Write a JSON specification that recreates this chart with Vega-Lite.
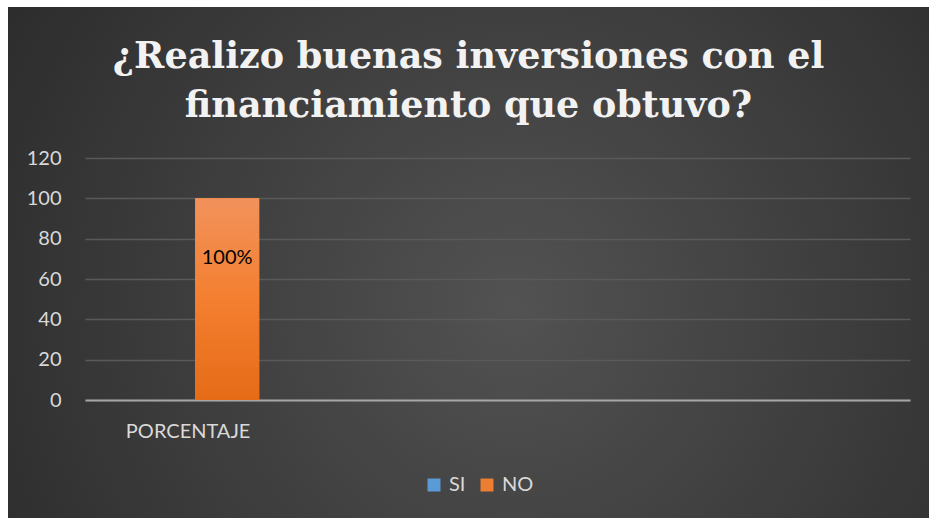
{
  "$schema": "https://vega.github.io/schema/vega-lite/v6.json",
  "width": 921,
  "height": 511,
  "autosize": {"type": "none"},
  "padding": {"left": 8, "top": 7, "right": 0, "bottom": 0},
  "background": "#ffffff",
  "title": {
    "text": ["¿Realizo buenas inversiones con el", "financiamiento que obtuvo?"],
    "font": "DejaVu Serif",
    "fontWeight": "bold",
    "fontSize": 36.5,
    "lineHeight": 49,
    "color": "#f2f2f2",
    "anchor": "middle",
    "frame": "group",
    "baseline": "alphabetic",
    "offset": -146
  },
  "data": {
    "values": [
      {"categoria": "PORCENTAJE", "respuesta": "SI", "valor": 0, "etiqueta": "0%"},
      {"categoria": "PORCENTAJE", "respuesta": "NO", "valor": 100, "etiqueta": "100%"}
    ]
  },
  "encoding": {
    "x": {
      "field": "categoria",
      "type": "nominal",
      "title": null,
      "scale": {"range": [77, 902], "paddingInner": 0.3333, "paddingOuter": 1, "align": 0},
      "axis": {
        "offset": -118,
        "labelAngle": 0,
        "ticks": false,
        "domainColor": "#a6a6a6",
        "domainWidth": 2,
        "labelColor": "#d9d9d9",
        "labelFontSize": 20,
        "labelFont": "Lato",
        "labelPadding": 21
      }
    },
    "xOffset": {
      "field": "respuesta",
      "type": "nominal",
      "scale": {"domain": ["SI", "NO"], "paddingInner": 0.18, "paddingOuter": 0.41}
    },
    "y": {
      "field": "valor",
      "type": "quantitative",
      "title": null,
      "scale": {"domain": [0, 120], "range": [393, 151], "nice": false},
      "axis": {
        "offset": -77,
        "values": [0, 20, 40, 60, 80, 100, 120],
        "domain": false,
        "ticks": false,
        "labelColor": "#d9d9d9",
        "labelFontSize": 20,
        "labelFont": "Lato",
        "labelPadding": 24,
        "gridColor": "#5a5a5a",
        "gridWidth": 1.3
      }
    }
  },
  "layer": [
    {
      "mark": {"type": "bar"},
      "encoding": {
        "color": {
          "field": "respuesta",
          "type": "nominal",
          "scale": {"domain": ["SI", "NO"], "range": ["#5b9bd5", "#ed7d31"]},
          "legend": {
            "title": null,
            "orient": "none",
            "direction": "horizontal",
            "legendX": 416,
            "legendY": 468,
            "symbolType": "square",
            "symbolSize": 169,
            "symbolStrokeWidth": 0,
            "labelColor": "#d9d9d9",
            "labelFontSize": 20,
            "labelFont": "Lato",
            "labelOffset": 5,
            "columnPadding": 11
          }
        }
      }
    },
    {
      "transform": [{"filter": "datum.respuesta === 'NO'"}],
      "mark": {
        "type": "bar",
        "fill": {
          "gradient": "linear",
          "x1": 0, "y1": 0, "x2": 0, "y2": 1,
          "stops": [
            {"offset": 0, "color": "#f1925b"},
            {"offset": 0.5, "color": "#f47f30"},
            {"offset": 1, "color": "#e56b17"}
          ]
        }
      }
    },
    {
      "transform": [{"filter": "datum.respuesta === 'NO'"}],
      "mark": {"type": "text", "baseline": "middle", "dy": 60, "fontSize": 20, "font": "Lato", "color": "#000000"},
      "encoding": {"text": {"field": "etiqueta"}}
    }
  ],
  "config": {
    "view": {
      "stroke": null,
      "fill": {
        "gradient": "radial",
        "x1": 0.55, "y1": 0.55, "r1": 0,
        "x2": 0.55, "y2": 0.55, "r2": 0.75,
        "stops": [
          {"offset": 0, "color": "#525252"},
          {"offset": 1, "color": "#262626"}
        ]
      }
    }
  }
}
